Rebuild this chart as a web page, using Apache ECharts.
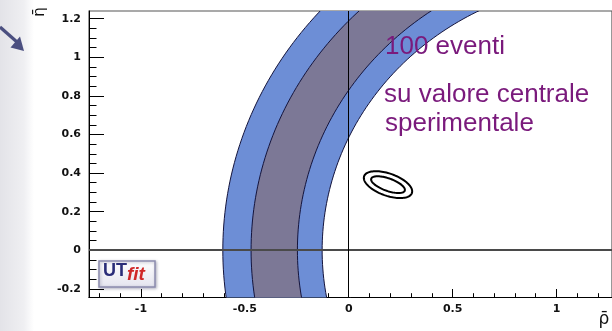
<!DOCTYPE html>
<html>
<head>
<meta charset="utf-8">
<script src="https://cdn.jsdelivr.net/npm/echarts@6/dist/echarts.min.js"></script>
<style>html,body{margin:0;padding:0;background:#fff;}#c{width:612px;height:331px;}</style>
</head>
<body>
<div id="c"></div>
<script>
// ---- data ----
const xMajorTicks = [-1, -0.5, 0, 0.5, 1];
const xMinorTicks = [-1.2, -1.1, -0.9, -0.8, -0.7, -0.6, -0.4, -0.3, -0.2, -0.1, 0.1, 0.2, 0.3, 0.4, 0.6, 0.7, 0.8, 0.9, 1.1, 1.2];
const yMajorTicks = [-0.2, 0, 0.2, 0.4, 0.6, 0.8, 1, 1.2];
const yMinorTicks = [-0.15, -0.1, -0.05, 0.05, 0.1, 0.15, 0.25, 0.3, 0.35, 0.45, 0.5, 0.55, 0.65, 0.7, 0.75, 0.85, 0.9, 0.95, 1.05, 1.1, 1.15];

// ring bands (centre rho, centre eta), radii [inner, outer]
const bandCenter = [1.27, 0];
const band95Radii = [1.398, 1.876];
const band68Radii = [1.517, 1.74];

// fitted contours (ellipses): centre, semi-axes, tilt (deg, data units)
const ellipseCenter = [0.189, 0.34];
const ellipseOuterAxes = [0.123, 0.057];
const ellipseInnerAxes = [0.0865, 0.032];
const ellipseAngle = -21.5;

const noteLines = ['100 eventi', 'su valore centrale', 'sperimentale'];

// ---- chart ----
const chart = echarts.init(document.getElementById('c'), null, {renderer: 'canvas'});
const bandColors = ['#6d8ed6', '#7c7896'];
const edgeColor = '#14143c';

function renderBand(params, api) {
  const cx = api.value(0), cy = api.value(1), rIn = api.value(2), rOut = api.value(3), k = api.value(4);
  const outer = [], inner = [];
  const N = 180;
  for (let i = 0; i <= N; i++) {
    const t = Math.PI / 2 + Math.PI * i / N;
    outer.push(api.coord([cx + rOut * Math.cos(t), cy + rOut * Math.sin(t)]));
    inner.push(api.coord([cx + rIn * Math.cos(t), cy + rIn * Math.sin(t)]));
  }
  const poly = outer.concat(inner.slice().reverse());
  return {
    type: 'group',
    children: [
      {type: 'polygon', shape: {points: poly}, style: {fill: bandColors[k], stroke: null}},
      {type: 'polyline', shape: {points: outer}, style: {fill: null, stroke: edgeColor, lineWidth: 1}},
      {type: 'polyline', shape: {points: inner}, style: {fill: null, stroke: edgeColor, lineWidth: 1}}
    ]
  };
}

function renderEllipse(params, api) {
  const cx = api.value(0), cy = api.value(1), a = api.value(2), b = api.value(3), ang = api.value(4) * Math.PI / 180;
  const pts = [];
  const N = 100;
  for (let i = 0; i < N; i++) {
    const t = 2 * Math.PI * i / N;
    const u = a * Math.cos(t), v = b * Math.sin(t);
    pts.push(api.coord([cx + u * Math.cos(ang) - v * Math.sin(ang), cy + u * Math.sin(ang) + v * Math.cos(ang)]));
  }
  return {type: 'polygon', shape: {points: pts}, style: {fill: null, stroke: '#000', lineWidth: 2}};
}

const tickFont = {fontFamily: 'DejaVu Sans', fontWeight: 'bold', fontSize: 11, color: '#111'};

const option = {
  animation: false,
  backgroundColor: '#ffffff',
  grid: {left: 89, top: 11, width: 526, height: 286.5, show: true, borderColor: '#555', borderWidth: 1.2, backgroundColor: 'transparent'},
  xAxis: [
    {type: 'value', min: -1.25, max: 1.267, position: 'bottom',
      axisLine: {show: true, onZero: false, lineStyle: {color: '#000', width: 1}},
      axisTick: {show: true, inside: true, length: 8.5, customValues: xMajorTicks, lineStyle: {color: '#000'}},
      axisLabel: Object.assign({show: true, customValues: xMajorTicks, margin: 6}, tickFont),
      splitLine: {show: false}},
    {type: 'value', min: -1.25, max: 1.267, position: 'bottom',
      axisLine: {show: false, onZero: false},
      axisTick: {show: true, inside: true, length: 4.3, customValues: xMinorTicks, lineStyle: {color: '#000'}},
      axisLabel: {show: false, customValues: xMinorTicks},
      splitLine: {show: false}}
  ],
  yAxis: [
    {type: 'value', min: -0.245, max: 1.24, position: 'left',
      axisLine: {show: true, onZero: false, lineStyle: {color: '#000', width: 1}},
      axisTick: {show: true, inside: true, length: 15, customValues: yMajorTicks, lineStyle: {color: '#000'}},
      axisLabel: Object.assign({show: true, customValues: yMajorTicks, margin: 8}, tickFont),
      splitLine: {show: false}},
    {type: 'value', min: -0.245, max: 1.24, position: 'left',
      axisLine: {show: false, onZero: false},
      axisTick: {show: true, inside: true, length: 7.5, customValues: yMinorTicks, lineStyle: {color: '#000'}},
      axisLabel: {show: false, customValues: yMinorTicks},
      splitLine: {show: false}}
  ],
  series: [
    {type: 'custom', name: 'bands', xAxisIndex: 0, yAxisIndex: 0, clip: true, z: 2,
      renderItem: renderBand,
      data: [
        [bandCenter[0], bandCenter[1], band95Radii[0], band95Radii[1], 0],
        [bandCenter[0], bandCenter[1], band68Radii[0], band68Radii[1], 1]
      ]},
    {type: 'custom', name: 'contours', xAxisIndex: 0, yAxisIndex: 0, clip: true, z: 3,
      renderItem: renderEllipse,
      data: [
        [ellipseCenter[0], ellipseCenter[1], ellipseOuterAxes[0], ellipseOuterAxes[1], ellipseAngle],
        [ellipseCenter[0], ellipseCenter[1], ellipseInnerAxes[0], ellipseInnerAxes[1], ellipseAngle]
      ]},
    {type: 'line', name: 'axes0', xAxisIndex: 0, yAxisIndex: 0, data: [], z: 4, silent: true,
      markLine: {silent: true, symbol: 'none', label: {show: false}, animation: false,
        data: [
          {yAxis: 0, lineStyle: {color: '#4a4a4a', width: 2, type: 'solid'}},
          {xAxis: 0, lineStyle: {color: '#000', width: 1, type: 'solid'}}
        ]}}
  ],
  graphic: [
    {type: 'rect', z: -10, shape: {x: 0, y: 0, width: 34, height: 331},
      style: {fill: new echarts.graphic.LinearGradient(0, 0, 1, 0, [
        {offset: 0, color: '#e3e3e8'}, {offset: 0.7, color: '#efeff2'}, {offset: 1, color: '#ffffff'}])}},
    {type: 'polyline', z: 10, shape: {points: [[0, 27], [17, 42]]}, style: {stroke: '#4b4f80', lineWidth: 3.2, fill: null}},
    {type: 'polygon', z: 10, shape: {points: [[24, 51], [10.5, 47.5], [20, 36.5]]}, style: {fill: '#4b4f80'}},
    {type: 'text', z: 10, x: 40, y: 12, rotation: Math.PI / 2,
      style: {text: 'η\u0304', font: '15px "DejaVu Sans"', fill: '#111', align: 'center', verticalAlign: 'middle'}},
    {type: 'text', z: 10, x: 604, y: 320,
      style: {text: 'ρ\u0304', font: '17px "DejaVu Sans"', fill: '#111', align: 'center', verticalAlign: 'middle'}},
    {type: 'text', z: 10, x: 385, y: 47,
      style: {text: noteLines[0], font: '26px "Liberation Sans"', fill: '#7a1a7c', align: 'left', verticalAlign: 'middle'}},
    {type: 'text', z: 10, x: 384, y: 95,
      style: {text: noteLines[1], font: '26px "Liberation Sans"', fill: '#7a1a7c', align: 'left', verticalAlign: 'middle'}},
    {type: 'text', z: 10, x: 385, y: 124,
      style: {text: noteLines[2], font: '26px "Liberation Sans"', fill: '#7a1a7c', align: 'left', verticalAlign: 'middle'}},
    {type: 'group', z: 10, x: 99, y: 261, children: [
      {type: 'rect', shape: {x: 0, y: 0, width: 56, height: 26},
        style: {fill: new echarts.graphic.LinearGradient(0, 0, 0, 1, [
          {offset: 0, color: '#ffffff'}, {offset: 1, color: '#e4e4ee'}]),
          stroke: '#8c8cae', lineWidth: 1.5, shadowBlur: 3, shadowColor: 'rgba(60,60,100,0.35)', shadowOffsetX: 1, shadowOffsetY: 1}},
      {type: 'text', x: 4, y: 10, style: {text: 'UT', font: 'bold 18px "Liberation Sans"', fill: '#2a2d78', align: 'left', verticalAlign: 'middle'}},
      {type: 'text', x: 28, y: 14, style: {text: 'fit', font: 'italic bold 19px "Liberation Sans"', fill: '#d02828', align: 'left', verticalAlign: 'middle'}}
    ]}
  ]
};
chart.setOption(option);
</script>
</body>
</html>
